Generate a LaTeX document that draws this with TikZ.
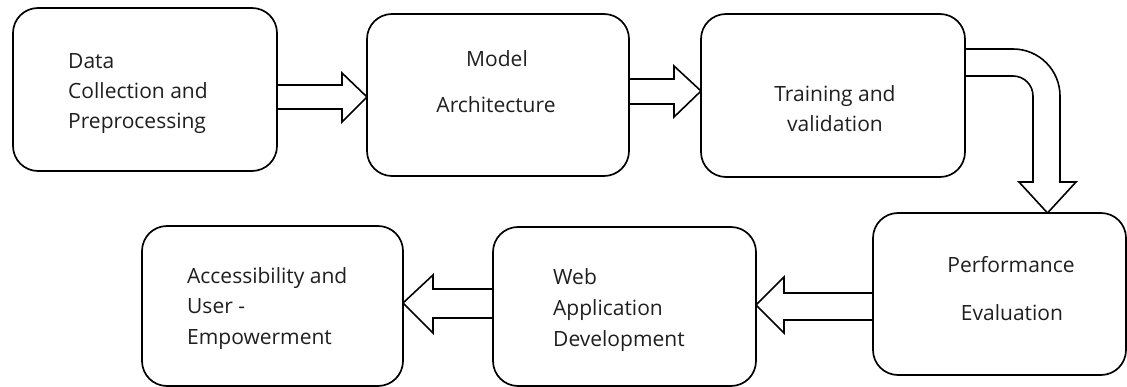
\documentclass[tikz,border=0pt]{standalone}
\usepackage{fontspec}
\setmainfont{Open Sans}
\usetikzlibrary{calc}

\tikzset{
  stage/.style={draw=black, line width=1.7pt, rounded corners=25, fill=white,
    inner sep=0pt, outer sep=0pt},
  blockarrow/.style={draw=black, line width=1.6pt, fill=white, line join=miter},
  lbl/.style={inner sep=0pt, text=black!88, font=\fontsize{21}{25}\selectfont},
  lblL/.style={lbl, anchor=base west},
  lblC/.style={lbl, anchor=base},
}

\begin{document}
\begin{tikzpicture}[x=1pt, y=-1pt]
  \fill[white] (0,0) rectangle (1127,387);
  \useasboundingbox (0,0) rectangle (1127,387);

  % process stages
  \node[stage, minimum width=264, minimum height=163] (b1) at (145,89.5) {};
  \node[stage, minimum width=262, minimum height=162] (b2) at (498,95) {};
  \node[stage, minimum width=264, minimum height=163] (b3) at (833,95.5) {};
  \node[stage, minimum width=253, minimum height=162] (b4) at (999.5,294) {};
  \node[stage, minimum width=263, minimum height=159] (b5) at (624.5,306.5) {};
  \node[stage, minimum width=261, minimum height=160] (b6) at (272.5,306) {};

  % stage labels
  \node[lblL] (t1a) at (68,69)  {Data};
  \node[lblL] (t1b) at (68,99)  {Collection and};
  \node[lblL] (t1c) at (68,129) {Preprocessing};

  \node[lblC] (t2a) at (497,67)  {Model};
  \node[lblC] (t2b) at (496,113) {Architecture};

  \node[lblC] (t3a) at (835,102) {Training and};
  \node[lblC] (t3b) at (835,132) {validation};

  \node[lblC] (t4a) at (1011,273) {Performance};
  \node[lblC] (t4b) at (1012,320) {Evaluation};

  \node[lblL] (t5a) at (553,285) {Web};
  \node[lblL] (t5b) at (553,316) {Application};
  \node[lblL] (t5c) at (553,346) {Development};

  \node[lblL] (t6a) at (187,284) {Accessibility and};
  \node[lblL] (t6b) at (187,313) {User -};
  \node[lblL] (t6c) at (187,344) {Empowerment};

  % block arrows between stages
  \draw[blockarrow] (b1.east |- 0,85) -- ($(b2.west |- 0,85)+(-25,0)$)
    -- ($(b2.west |- 0,73)+(-25,0)$) -- (b2.west |- 0,97)
    -- ($(b2.west |- 0,122)+(-25,0)$) -- ($(b2.west |- 0,109)+(-25,0)$)
    -- (b1.east |- 0,109) -- cycle;

  \draw[blockarrow] (b2.east |- 0,79) -- ($(b3.west |- 0,79)+(-27,0)$)
    -- ($(b3.west |- 0,66)+(-27,0)$) -- (b3.west |- 0,91)
    -- ($(b3.west |- 0,117)+(-27,0)$) -- ($(b3.west |- 0,104)+(-27,0)$)
    -- (b2.east |- 0,104) -- cycle;

  \draw[blockarrow] (b3.east |- 0,49) -- (1013,49)
    arc[start angle=-90, end angle=0, radius=47]
    -- (1060,182) -- (1076,182) -- (b4.north -| 1047.5,0)
    -- (1019,182) -- (1033,182) -- (1033,96)
    arc[start angle=0, end angle=-90, radius=20]
    -- (b3.east |- 0,76) -- cycle;

  \draw[blockarrow] (b4.west |- 0,293) -- ($(b5.east |- 0,293)+(28,0)$)
    -- ($(b5.east |- 0,277)+(28,0)$) -- (b5.east |- 0,305)
    -- ($(b5.east |- 0,333)+(28,0)$) -- ($(b5.east |- 0,320)+(28,0)$)
    -- (b4.west |- 0,320) -- cycle;

  \draw[blockarrow] (b5.west |- 0,289) -- ($(b6.east |- 0,289)+(30,0)$)
    -- ($(b6.east |- 0,275)+(30,0)$) -- (b6.east |- 0,303)
    -- ($(b6.east |- 0,333)+(30,0)$) -- ($(b6.east |- 0,318)+(30,0)$)
    -- (b5.west |- 0,318) -- cycle;
\end{tikzpicture}
\end{document}
